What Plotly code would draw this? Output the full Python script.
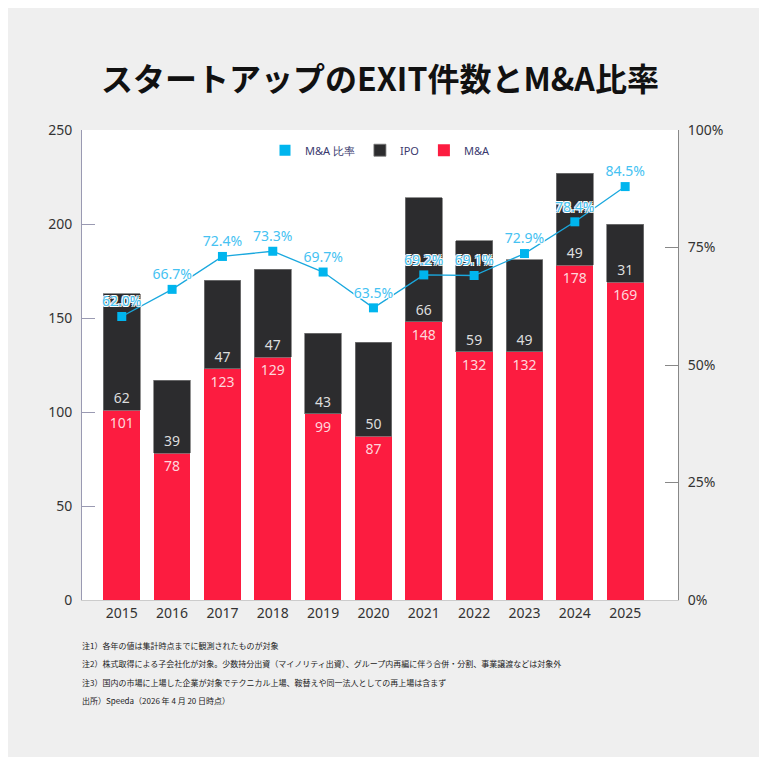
import plotly.graph_objects as go

# data
years = [2015, 2016, 2017, 2018, 2019, 2020, 2021, 2022, 2023, 2024, 2025]
ma_counts = [101, 78, 123, 129, 99, 87, 148, 132, 132, 178, 169]
ipo_counts = [62, 39, 47, 47, 43, 50, 66, 59, 49, 49, 31]
ma_ratio = [62.0, 66.7, 72.4, 73.3, 69.7, 63.5, 69.2, 69.1, 72.9, 78.4, 84.5]
ratio_labels = ['62.0%', '66.7%', '72.4%', '73.3%', '69.7%', '63.5%',
                '69.2%', '69.1%', '72.9%', '78.4%', '84.5%']
left_ticks = [0, 50, 100, 150, 200, 250]
right_ticks = [0, 25, 50, 75, 100]
right_labels = ['0%', '25%', '50%', '75%', '100%']

notes = [
    '注1）各年の値は集計時点までに観測されたものが対象',
    '注2）株式取得による子会社化が対象。少数持分出資（マイノリティ出資）、グループ内再編に伴う合併・分割、事業譲渡などは対象外',
    '注3）国内の市場に上場した企業が対象でテクニカル上場、鞍替えや同一法人としての再上場は含まず',
    '出所）Speeda（2026 年 4 月 20 日時点）',
]

RED = '#fc1c40'
DARK = '#2c2c2e'
CYAN = '#00b5ee'
AXIS = '#9a9ab2'
JP = 'Noto Sans CJK JP'
TICKFONT = dict(family='Noto Sans', size=14, color='#333333')

fig = go.Figure()

fig.add_trace(go.Bar(
    x=years, y=ma_counts, name='M&A', legendrank=3,
    marker=dict(color=RED, line=dict(width=0)),
    width=0.73, texttemplate='%{y}', textposition='inside',
    insidetextanchor='end', textangle=0, constraintext='none',
    insidetextfont=dict(family='Noto Sans', size=14, color='#ffd6dc'),
    hoverinfo='skip'))

fig.add_trace(go.Bar(
    x=years, y=ipo_counts, name='IPO', legendrank=2,
    marker=dict(color=DARK, line=dict(width=0.8, color='#777777')),
    width=0.73, texttemplate='%{y}', textposition='inside',
    insidetextanchor='start', textangle=0, constraintext='none',
    insidetextfont=dict(family='Noto Sans', size=14, color='#dddddd'),
    hoverinfo='skip'))

# ratio line, drawn on its own hidden scale like the source picture
fig.add_trace(go.Scatter(
    x=years, y=ma_ratio, yaxis='y3', mode='lines+markers+text',
    text=ratio_labels, textposition='top center',
    textfont=dict(family='Noto Sans', size=14, color='#45c2f2',
                  shadow='1px 1px 0 #fff, -1px -1px 0 #fff, 1px -1px 0 #fff, -1px 1px 0 #fff'),
    line=dict(color='#1aa8de', width=1.3),
    marker=dict(symbol='square', size=9, color=CYAN),
    showlegend=False, cliponaxis=False, hoverinfo='skip'))

# legend entry for the ratio as a plain square
fig.add_trace(go.Scatter(
    x=[None], y=[None], mode='markers', name='M&A 比率', legendrank=1,
    marker=dict(symbol='square', size=11, color=CYAN)))

# dummy trace so the right axis is drawn
fig.add_trace(go.Scatter(x=[2015], y=[0], yaxis='y2', mode='markers',
                         marker=dict(opacity=0), showlegend=False, hoverinfo='skip'))

fig.update_layout(
    width=752, height=749,
    barmode='stack',
    paper_bgcolor='#efefef', plot_bgcolor='white',
    margin=dict(l=74, r=82, t=122, b=157),
    title=dict(text='<b>スタートアップのEXIT件数とM&A比率</b>',
               font=dict(family=JP, size=32, color='#111111'),
               x=0.5, xanchor='center', xref='paper',
               y=1 - 72 / 749, yanchor='middle', yref='container'),
    showlegend=True,
    legend=dict(orientation='h', x=0.5, xanchor='center', y=0.957, yanchor='middle',
                traceorder='normal',
                bgcolor='rgba(0,0,0,0)', font=dict(family='Noto Sans', size=11, color='#3a3a6e'),
                itemwidth=30),
    xaxis=dict(range=[2014.21, 2026.05], tickvals=years, ticks='',
               showline=True, linecolor='#cccccc', linewidth=1,
               showgrid=False, zeroline=False, tickfont=TICKFONT),
    yaxis=dict(range=[0, 250], tickvals=left_ticks, ticks='inside', ticklen=13,
               tickcolor=AXIS, showline=True, linecolor=AXIS, linewidth=1,
               showgrid=False, zeroline=False, tickfont=TICKFONT, ticklabelstandoff=6),
    yaxis2=dict(type='linear', range=[0, 100], tickvals=right_ticks, ticktext=right_labels,
                overlaying='y', side='right', ticks='inside', ticklen=13, tickcolor='#888888',
                showline=True, linecolor='#888888', linewidth=1,
                showgrid=False, zeroline=False, tickfont=TICKFONT, ticklabelstandoff=6),
    yaxis3=dict(range=[12.9, 94.3], overlaying='y', visible=False),
)

note_y = [645, 663, 682, 700]
for txt, py in zip(notes, note_y):
    fig.add_annotation(text=txt, xref='paper', yref='paper',
                       x=(72 - 74) / 596, y=(600 - py) / 470,
                       xanchor='left', yanchor='middle', showarrow=False,
                       font=dict(family=JP, size=8, color='#222222'))

fig.write_html('out.html')
